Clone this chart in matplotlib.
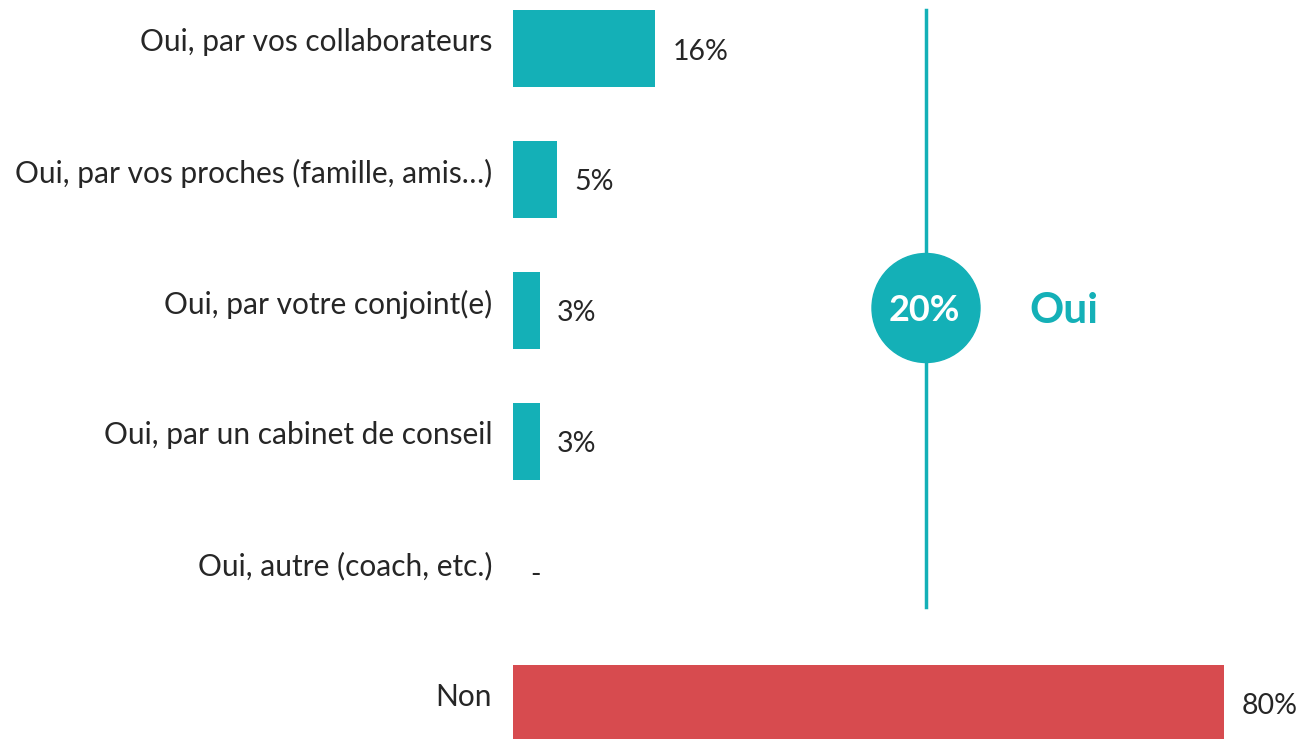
import matplotlib.pyplot as plt
from matplotlib.patches import Ellipse

# Données
categories = [
    "Oui, par vos collaborateurs",
    "Oui, par vos proches (famille, amis…)",
    "Oui, par votre conjoint(e)",
    "Oui, par un cabinet de conseil",
    "Oui, autre (coach, etc.)",
    "Non",
]
values = [16, 5, 3, 3, 0, 80]
value_labels = ["16%", "5%", "3%", "3%", "-", "80%"]
total_oui = "20%"
oui_label = "Oui"

teal = "#14B0B7"
red = "#D74B4F"
text_col = "#262626"
colors = [teal, teal, teal, teal, teal, red]

plt.rcParams['font.family'] = ['Lato', 'DejaVu Sans']

W, H = 1301, 739
fig = plt.figure(figsize=(W / 100, H / 100), dpi=100)

# axes calé sur le début des barres (x=513 px), 1 % = 8.89 px
px_per_pct = 8.89
ax = fig.add_axes([513 / W, 0, (W - 513) / W, 1])
ax.set_xlim(0, (W - 513) / px_per_pct)
row_px = 131
ax.set_ylim((H - 48.5) / row_px, -48.5 / row_px)
ax.axis('off')

ypos = list(range(len(categories)))
ax.barh(ypos, values, height=77 / row_px, color=colors, left=0)

for y, v, cat, lab in zip(ypos, values, categories, value_labels):
    ax.text(-21 / px_per_pct, y - 6 / row_px, cat, ha='right', va='center',
            fontsize=21.5, color=text_col)
    ax.text(v + 17 / px_per_pct, y + 3 / row_px, lab, ha='left', va='center',
            fontsize=20.5, color=text_col)

# ligne verticale + pastille "20%"
xc = (926 - 513) / px_per_pct
ax.plot([xc, xc], [-38.5 / row_px, 558.5 / row_px], color=teal, lw=2.5)
yc = (308 - 48.5) / row_px
ax.add_patch(Ellipse((xc, yc), 108 / px_per_pct, 109 / row_px, angle=0,
                     color=teal, zorder=3))
ax.text(xc - 0.2, yc + 3 / row_px, total_oui, ha='center', va='center',
        fontsize=26, fontweight='bold', color='white', zorder=4)
ax.text((1064 - 513) / px_per_pct, yc + 3 / row_px, oui_label, ha='center',
        va='center', fontsize=30.5, fontweight='bold', color=teal)

fig.savefig("out.png", dpi=100)
